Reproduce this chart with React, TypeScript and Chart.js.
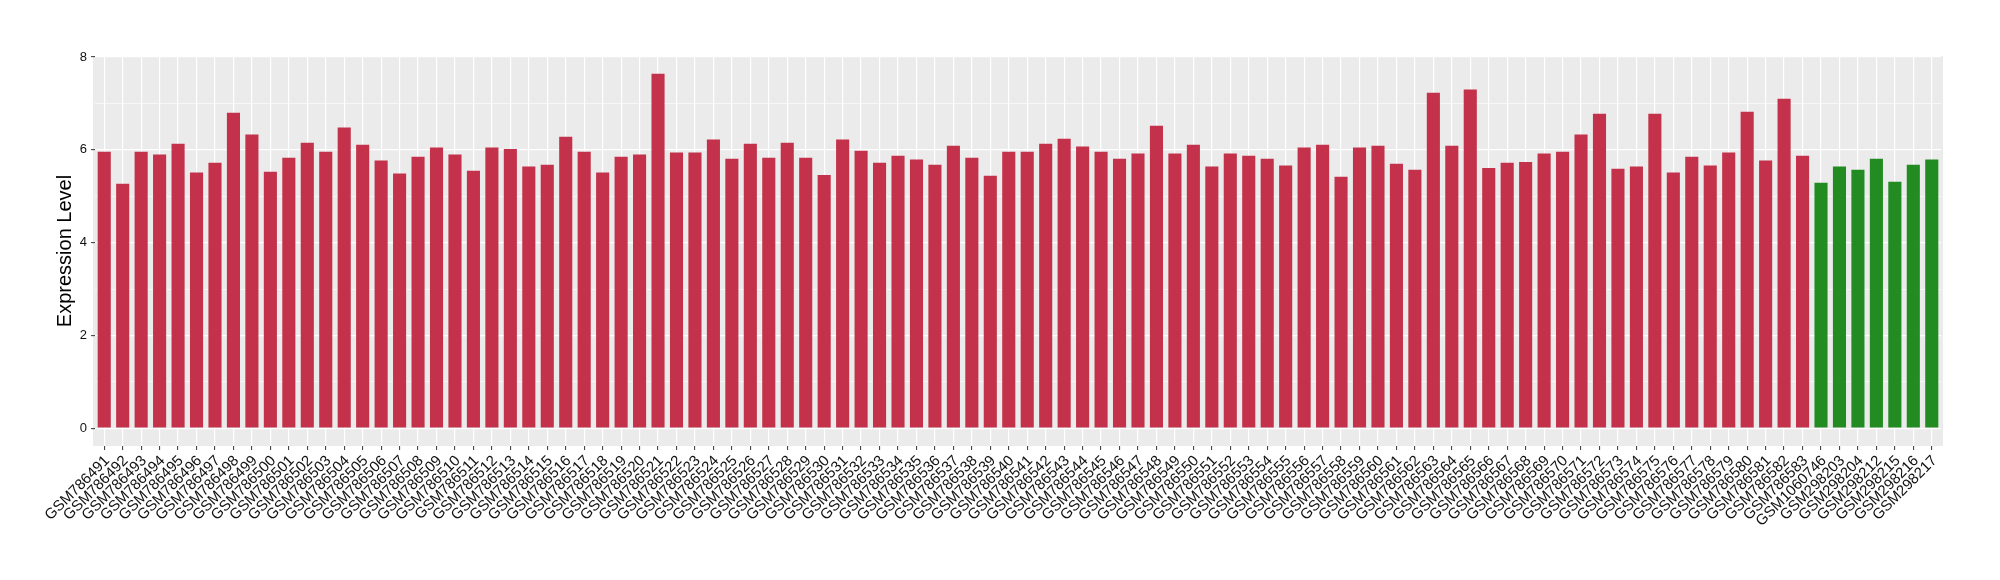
import React, { useEffect, useRef } from "react";
import { Chart, registerables } from "chart.js";

Chart.register(...registerables);

const samples: string[] = [
  "GSM786491", "GSM786492", "GSM786493", "GSM786494", "GSM786495", "GSM786496", "GSM786497", "GSM786498", "GSM786499", "GSM786500",
  "GSM786501", "GSM786502", "GSM786503", "GSM786504", "GSM786505", "GSM786506", "GSM786507", "GSM786508", "GSM786509", "GSM786510",
  "GSM786511", "GSM786512", "GSM786513", "GSM786514", "GSM786515", "GSM786516", "GSM786517", "GSM786518", "GSM786519", "GSM786520",
  "GSM786521", "GSM786522", "GSM786523", "GSM786524", "GSM786525", "GSM786526", "GSM786527", "GSM786528", "GSM786529", "GSM786530",
  "GSM786531", "GSM786532", "GSM786533", "GSM786534", "GSM786535", "GSM786536", "GSM786537", "GSM786538", "GSM786539", "GSM786540",
  "GSM786541", "GSM786542", "GSM786543", "GSM786544", "GSM786545", "GSM786546", "GSM786547", "GSM786548", "GSM786549", "GSM786550",
  "GSM786551", "GSM786552", "GSM786553", "GSM786554", "GSM786555", "GSM786556", "GSM786557", "GSM786558", "GSM786559", "GSM786560",
  "GSM786561", "GSM786562", "GSM786563", "GSM786564", "GSM786565", "GSM786566", "GSM786567", "GSM786568", "GSM786569", "GSM786570",
  "GSM786571", "GSM786572", "GSM786573", "GSM786574", "GSM786575", "GSM786576", "GSM786577", "GSM786578", "GSM786579", "GSM786580",
  "GSM786581", "GSM786582", "GSM786583",
  "GSM1060746", "GSM298203", "GSM298204", "GSM298212", "GSM298215", "GSM298216", "GSM298217",
];

const expression: number[] = [
  5.96, 5.27, 5.96, 5.90, 6.13, 5.51, 5.72, 6.80, 6.33, 5.53,
  5.83, 6.15, 5.96, 6.48, 6.11, 5.77, 5.49, 5.85, 6.05, 5.90,
  5.55, 6.05, 6.02, 5.64, 5.68, 6.28, 5.96, 5.51, 5.85, 5.90,
  7.64, 5.94, 5.94, 6.22, 5.81, 6.13, 5.83, 6.15, 5.83, 5.46,
  6.22, 5.98, 5.72, 5.87, 5.79, 5.68, 6.09, 5.83, 5.44, 5.96,
  5.96, 6.13, 6.24, 6.07, 5.96, 5.81, 5.92, 6.52, 5.92, 6.11,
  5.64, 5.92, 5.87, 5.81, 5.66, 6.05, 6.11, 5.42, 6.05, 6.09,
  5.70, 5.57, 7.23, 6.09, 7.30, 5.61, 5.72, 5.74, 5.92, 5.96,
  6.33, 6.78, 5.59, 5.64, 6.78, 5.51, 5.85, 5.66, 5.94, 6.82,
  5.77, 7.10, 5.87,
  5.29, 5.64, 5.57, 5.81, 5.31, 5.68, 5.79,
];

const normalSamples: string[] = [
  "GSM1060746", "GSM298203", "GSM298204", "GSM298212", "GSM298215", "GSM298216", "GSM298217",
];

const majorTicks: number[] = [0, 2, 4, 6, 8];
const minorTicks: number[] = [1, 3, 5, 7];

const RED = "#C3324A";
const GREEN = "#228B22";
const FONT = "'Liberation Sans', Arial, Helvetica, sans-serif";

const panelPlugin = {
  id: "panelBg",
  beforeDraw(chart: any) {
    const { ctx, chartArea: a } = chart;
    ctx.save();
    ctx.fillStyle = "#EBEBEB";
    ctx.fillRect(a.left - 2, a.top, a.right - a.left + 4, a.bottom - a.top);
    ctx.restore();
  },
};

export default function App() {
  const ref = useRef<HTMLCanvasElement | null>(null);

  useEffect(() => {
    if (!ref.current) return;
    const colors = samples.map((s) => (normalSamples.includes(s) ? GREEN : RED));
    const allTicks = [...majorTicks, ...minorTicks].sort((a, b) => a - b);
    const chart = new Chart(ref.current, {
      type: "bar",
      data: {
        labels: samples,
        datasets: [
          {
            data: expression,
            backgroundColor: colors,
            borderWidth: 0,
            categoryPercentage: 1,
            barPercentage: 0.71,
          },
        ],
      },
      plugins: [panelPlugin],
      options: {
        animation: false,
        responsive: false,
        devicePixelRatio: 1,
        layout: { padding: { left: 40, right: 59, top: 56, bottom: 0 } },
        plugins: { legend: { display: false }, tooltip: { enabled: false } },
        scales: {
          x: {
            type: "category",
            offset: true,
            border: { display: false },
            grid: {
              offset: false,
              color: "#FFFFFF",
              lineWidth: 1.2,
              drawTicks: true,
              tickLength: 4,
              tickColor: "#333333",
              tickWidth: 1,
            },
            ticks: {
              autoSkip: false,
              maxRotation: 45,
              minRotation: 45,
              padding: 2,
              labelOffset: 3,
              color: "#111111",
              font: { family: FONT, size: 15 },
            },
            afterFit: (s: any) => {
              s.height = 134;
            },
          },
          y: {
            type: "linear",
            min: -0.382,
            max: 8.022,
            border: { display: false },
            afterBuildTicks: (s: any) => {
              s.ticks = allTicks.map((v) => ({ value: v }));
            },
            grid: {
              color: "#FFFFFF",
              lineWidth: (c: any) => (majorTicks.includes(c.tick?.value) ? 1.3 : 0.6),
              drawTicks: true,
              tickLength: 4,
              tickWidth: 1,
              tickColor: (c: any) =>
                majorTicks.includes(c.tick?.value) ? "#333333" : "rgba(0,0,0,0)",
            },
            ticks: {
              padding: 4,
              color: "#111111",
              font: { family: FONT, size: 13 },
              callback: (v: any) => (majorTicks.includes(Number(v)) ? String(v) : ""),
            },
            title: {
              display: true,
              text: "Expression Level",
              color: "#000000",
              font: { family: FONT, size: 20 },
              padding: { top: 13, bottom: 0 },
            },
            afterFit: (s: any) => {
              s.width = 55;
            },
          },
        },
      },
    });
    return () => chart.destroy();
  }, []);

  return (
    <div style={{ position: "absolute", left: 0, top: 0, width: 2000, height: 580, background: "#fff" }}>
      <canvas ref={ref} width={2000} height={580} style={{ display: "block", width: 2000, height: 580 }} />
    </div>
  );
}
